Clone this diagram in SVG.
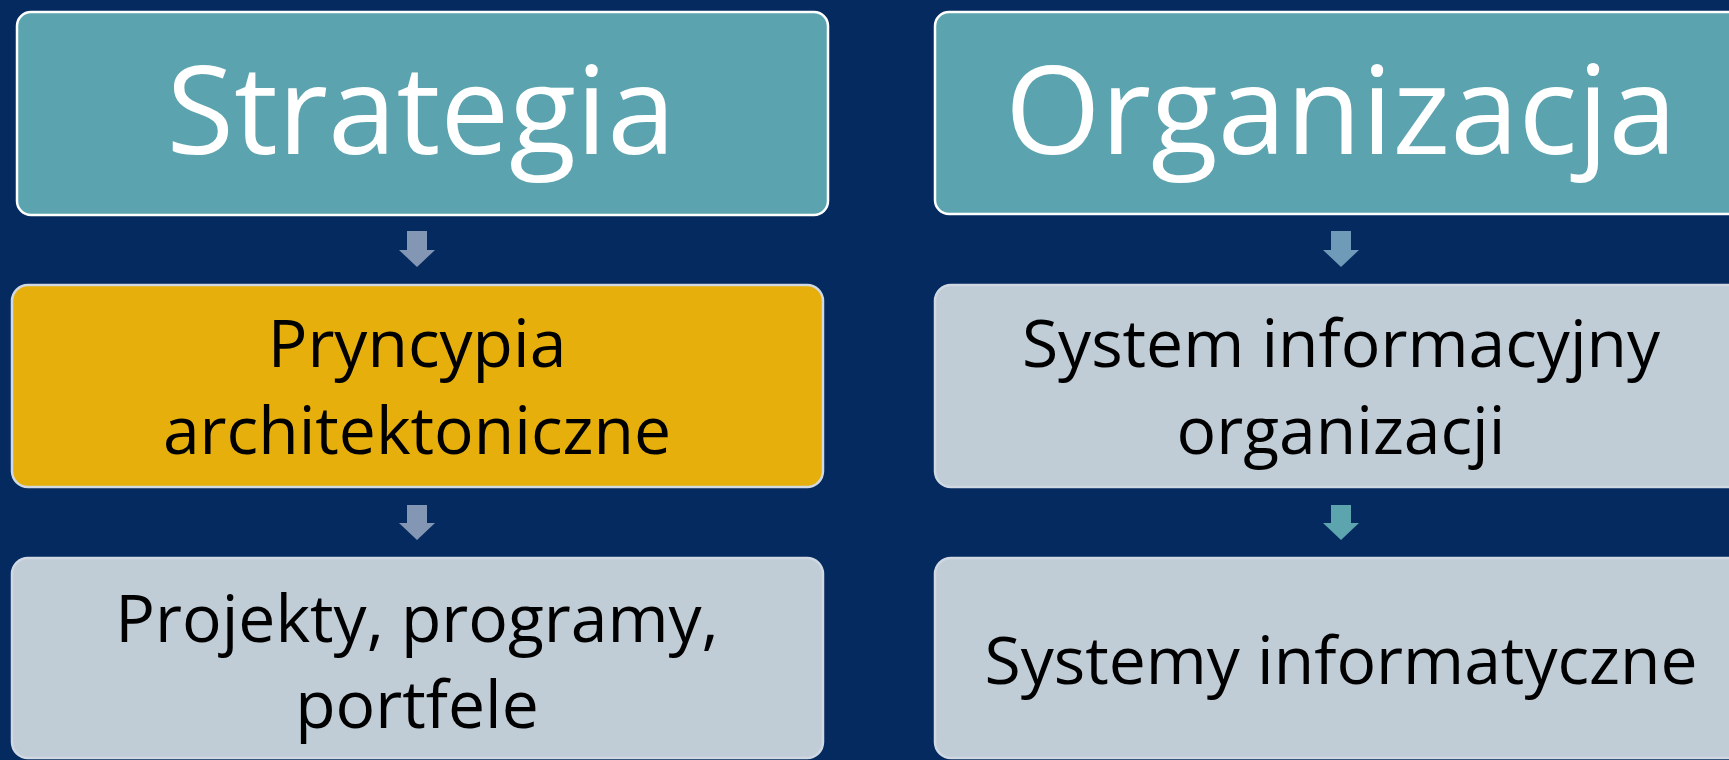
<svg xmlns="http://www.w3.org/2000/svg" width="1729" height="760" viewBox="0 0 1729 760">
<style>
.bg{fill:#042a5f}
.top{fill:#5ba3ae;stroke:#ffffff;stroke-width:2.5}
.mid{stroke:#d0d8e2;stroke-width:2.5}
.yel{fill:#e6af0b}
.gry{fill:#c0ccd6}
.t1{font-family:"Open Sans","DejaVu Sans",sans-serif;font-size:123px;fill:#ffffff;text-anchor:middle}
.t2{font-family:"Open Sans","DejaVu Sans",sans-serif;font-size:66px;fill:#000000;text-anchor:middle}
</style>
<rect class="bg" x="0" y="0" width="1729" height="760"/>
<g id="strategia">
<rect class="top" x="17" y="12" width="811" height="203" rx="14"/>
<text class="t1" x="421" y="154">Strategia</text>
</g>
<g id="organizacja">
<rect class="top" x="935" y="12" width="812" height="202" rx="14"/>
<text class="t1" x="1341" y="154">Organizacja</text>
</g>
<g id="pryncypia">
<rect class="mid yel" x="12" y="285" width="811" height="202" rx="16"/>
<text class="t2" x="417" y="367">Pryncypia</text>
<text class="t2" x="417" y="454">architektoniczne</text>
</g>
<g id="system-informacyjny">
<rect class="mid gry" x="935" y="285" width="812" height="202" rx="16"/>
<text class="t2" x="1341" y="367">System informacyjny</text>
<text class="t2" x="1341" y="454">organizacji</text>
</g>
<g id="projekty">
<rect class="mid gry" x="12" y="558" width="811" height="200" rx="16"/>
<text class="t2" x="417" y="642">Projekty, programy,</text>
<text class="t2" x="417" y="728">portfele</text>
</g>
<g id="systemy-informatyczne">
<rect class="mid gry" x="935" y="558" width="812" height="200" rx="16"/>
<text class="t2" x="1341" y="684">Systemy informatyczne</text>
</g>
<g id="connectors">
<path d="M407 231 H427 V250 H435 L417 267 L399 250 H407 Z" fill="#8397b5"/>
<path d="M407 505 H427 V523 H435 L417 540 L399 523 H407 Z" fill="#8397b5"/>
<path d="M1331 231 H1351 V250 H1359 L1341 267 L1323 250 H1331 Z" fill="#6f9bb8"/>
<path d="M1331 505 H1351 V523 H1359 L1341 540 L1323 523 H1331 Z" fill="#5ca4ae"/>
</g>
</svg>
